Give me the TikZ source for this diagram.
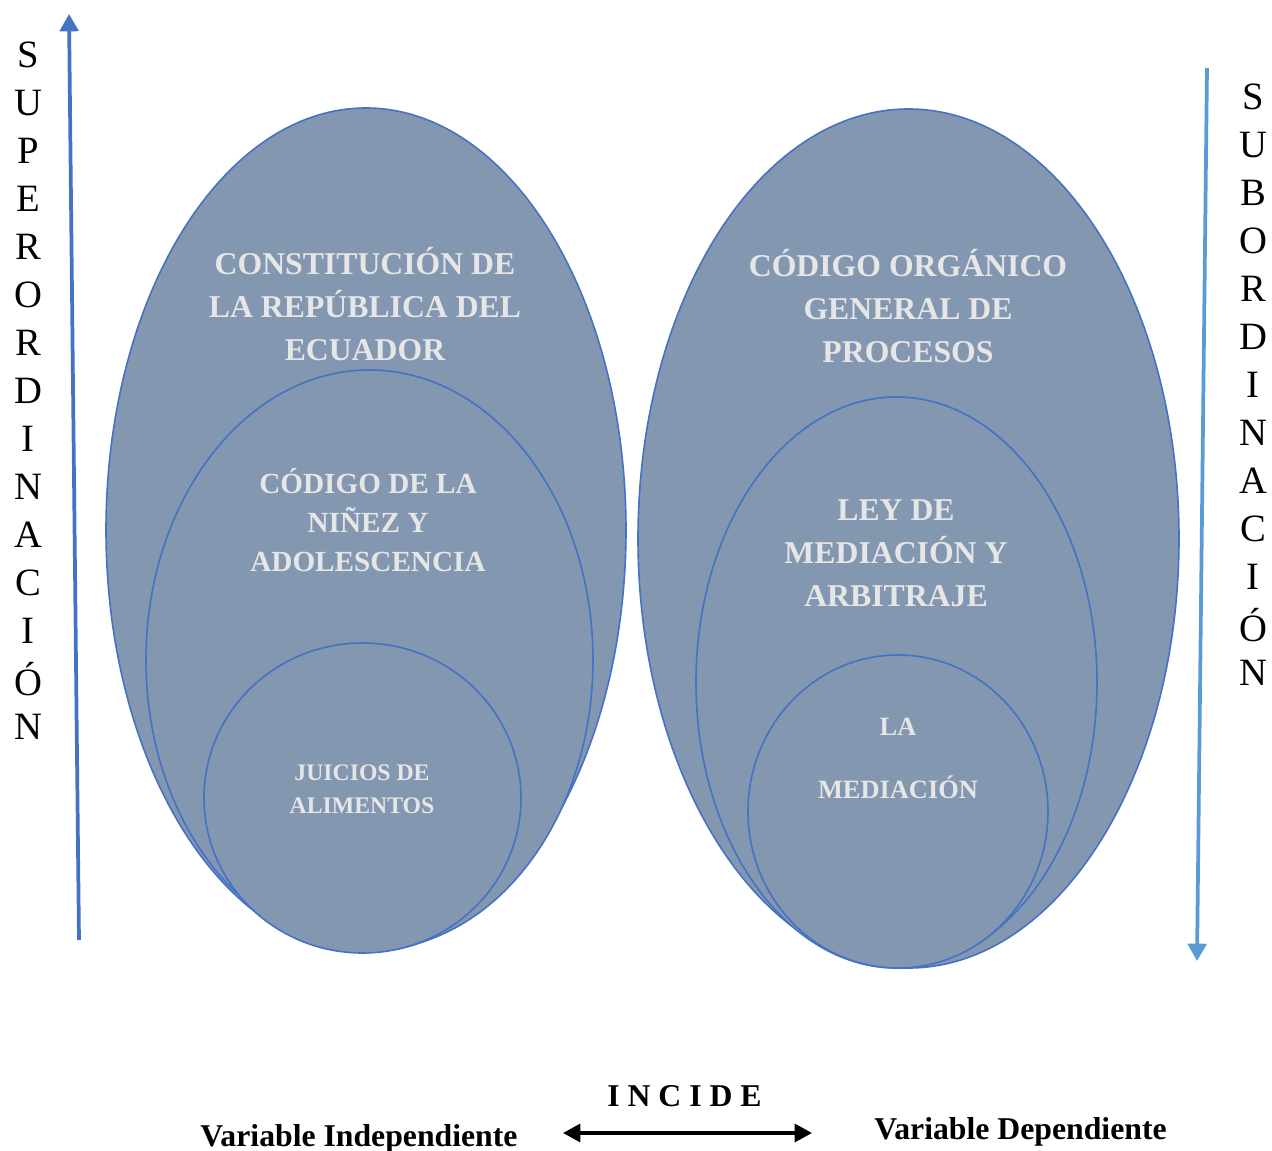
\documentclass[tikz,border=0pt]{standalone}
\usepackage{fontspec}
\setmainfont{Liberation Serif}
\usetikzlibrary{arrows.meta,positioning}

\definecolor{elfill}{HTML}{8497B0}
\definecolor{elline}{HTML}{4472C4}
\definecolor{eltext}{HTML}{E7E6E6}
\definecolor{flechasup}{HTML}{4472C4}
\definecolor{flechasub}{HTML}{5B9BD5}

\tikzset{
  nivel/.style={fill=elfill, draw=elline, line width=1.2pt},
  rotulo/.style={text=eltext, align=center, inner sep=0pt},
  letra/.style={font=\fontsize{29}{29}\selectfont, inner sep=0pt},
  rotvar/.style={font=\fontsize{23.8}{28}\selectfont\bfseries, inner sep=0pt},
  flecha/.style={line width=2.8pt, -{Triangle[width=14pt,length=13pt]}},
}

\begin{document}
\begin{tikzpicture}[x=0.75pt,y=-0.75pt]
	\useasboundingbox (0,0) rectangle (1272,1151);
	
	% variable independiente
	\draw[nivel] (366,530) ellipse [x radius=260, y radius=422];
	\draw[nivel] (369.5,660) ellipse [x radius=223.5, y radius=290];
	\draw[nivel] (362.5,798) ellipse [x radius=158.5, y radius=155];
	\node[rotulo, font=\fontsize{23.8}{32.25}\selectfont\bfseries] (const) at (365,304) {CONSTITUCIÓN DE\\LA REPÚBLICA DEL\\ECUADOR};
	\node[rotulo, font=\fontsize{21.9}{29.25}\selectfont\bfseries] (codnin) at (368,520) {CÓDIGO DE LA\\NIÑEZ Y\\ADOLESCENCIA};
	\node[rotulo, font=\fontsize{17.8}{24.75}\selectfont\bfseries] (juicios) at (362,789) {JUICIOS DE\\ALIMENTOS};
	
	% variable dependiente
	\draw[nivel] (908.5,538.5) ellipse [x radius=270.5, y radius=429.5];
	\draw[nivel] (896.5,682.5) ellipse [x radius=200.5, y radius=285.5];
	\draw[nivel] (898,811.5) ellipse [x radius=150, y radius=156.5];
	\node[rotulo, font=\fontsize{23.8}{32.25}\selectfont\bfseries] (cogep) at (908,306) {CÓDIGO ORGÁNICO\\GENERAL DE\\PROCESOS};
	\node[rotulo, font=\fontsize{23.8}{32.25}\selectfont\bfseries] (leymed) at (896,553) {LEY DE\\MEDIACIÓN Y\\ARBITRAJE};
	\node[rotulo, font=\fontsize{19.8}{47.25}\selectfont\bfseries] (mediacion) at (898,758) {LA\\MEDIACIÓN};
	
	% flechas laterales
	\coordinate (supA) at (79,940);
	\coordinate (supB) at (69,14);
	\draw[flecha, flechasup] (supA) -- (supB);
	\coordinate (subA) at (1207,68);
	\coordinate (subB) at (1197,961);
	\draw[flecha, flechasub] (subA) -- (subB);
	
	\foreach \l [count=\i from 0] in {S,U,P,E,R,O,R,D,I,N,A,C,I,Ó,N}
		\node[letra] (sup\i) at (28,55+48*\i) {\l};
	\foreach \l [count=\i from 0] in {S,U,B,O,R,D,I,N,A,C,I,Ó,N}
		\node[letra] (sub\i) at (1253,97+48*\i) {\l};
	
	% incide
	\node[rotvar] (varind) at (359,1139) {Variable Independiente};
	\node[rotvar] (vardep) at (1020.5,1132) {Variable Dependiente};
	\node[rotvar] (incide) at (684.5,1096) {I N C I D E};
	\coordinate (incL) at (563,1133);
	\coordinate (incR) at (812,1133);
	\draw[line width=2.4pt, {Triangle[width=13.5pt,length=13pt]}-{Triangle[width=13.5pt,length=13pt]}] (incL) -- (incR);
\end{tikzpicture}
\end{document}
